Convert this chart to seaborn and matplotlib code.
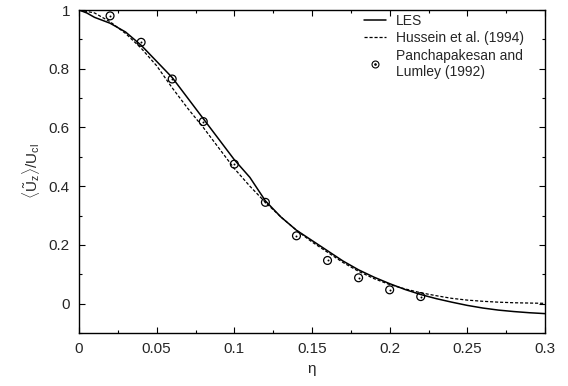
import matplotlib
matplotlib.use("Agg")
import matplotlib.pyplot as plt
from matplotlib.ticker import MultipleLocator
from matplotlib.lines import Line2D
import seaborn as sns
import pandas as pd

les_eta = [0, 0.005, 0.01, 0.015, 0.02, 0.025, 0.03, 0.04, 0.05, 0.06, 0.07, 0.08, 0.09,
           0.1, 0.11, 0.115, 0.12, 0.13, 0.14, 0.15, 0.16, 0.17, 0.18, 0.19, 0.2, 0.21,
           0.22, 0.23, 0.24, 0.25, 0.26, 0.27, 0.28, 0.29, 0.3]
les_u = [1.0, 0.99, 0.975, 0.965, 0.955, 0.94, 0.925, 0.88, 0.825, 0.77, 0.70, 0.63, 0.56,
         0.49, 0.43, 0.39, 0.35, 0.295, 0.25, 0.215, 0.18, 0.145, 0.115, 0.09, 0.068, 0.048,
         0.031, 0.017, 0.005, -0.006, -0.015, -0.022, -0.027, -0.031, -0.034]

hus_eta = [0, 0.01, 0.02, 0.03, 0.04, 0.05, 0.06, 0.07, 0.08, 0.09, 0.1, 0.11, 0.12, 0.13,
           0.14, 0.15, 0.16, 0.17, 0.18, 0.19, 0.2, 0.21, 0.22, 0.23, 0.24, 0.25, 0.26, 0.27,
           0.28, 0.29, 0.3]
hus_u = [1.0, 0.99, 0.96, 0.92, 0.87, 0.81, 0.735, 0.665, 0.60, 0.53, 0.46, 0.40, 0.345,
         0.295, 0.25, 0.21, 0.175, 0.14, 0.11, 0.085, 0.065, 0.05, 0.037, 0.027, 0.018,
         0.012, 0.008, 0.005, 0.003, 0.002, 0.001]

pl_eta = [0.02, 0.04, 0.06, 0.08, 0.1, 0.12, 0.14, 0.16, 0.18, 0.2, 0.22]
pl_u = [0.98, 0.89, 0.765, 0.62, 0.475, 0.345, 0.231, 0.147, 0.088, 0.047, 0.024]

xtick_labels = ['0', '0.05', '0.1', '0.15', '0.2', '0.25', '0.3']
ytick_labels = ['0', '0.2', '0.4', '0.6', '0.8', '1']

sns.set_theme(style="ticks")
plt.rcParams['font.family'] = ['Liberation Sans', 'DejaVu Sans']
plt.rcParams['mathtext.fontset'] = 'custom'
plt.rcParams['mathtext.rm'] = 'Liberation Sans'
plt.rcParams['mathtext.it'] = 'Liberation Sans'

fig = plt.figure(figsize=(5.68, 3.86), dpi=100)
ax = fig.add_axes([79/568, 1 - 333/386, (545-79)/568, (333-10)/386])

df_les = pd.DataFrame({'eta': les_eta, 'u': les_u})
df_hus = pd.DataFrame({'eta': hus_eta, 'u': hus_u})
df_pl = pd.DataFrame({'eta': pl_eta, 'u': pl_u})

dash = (0, (2.5, 1.5))
sns.lineplot(data=df_les, x='eta', y='u', ax=ax, color='black', lw=1.1, sort=False)
sns.lineplot(data=df_hus, x='eta', y='u', ax=ax, color='black', lw=0.9, sort=False,
             linestyle=dash)
sns.scatterplot(data=df_pl, x='eta', y='u', ax=ax, marker='o', s=32,
                facecolor='none', edgecolor='black', linewidth=0.9)
sns.scatterplot(data=df_pl, x='eta', y='u', ax=ax, marker='o', s=2,
                color='black', linewidth=0)

h_les = Line2D([], [], color='black', lw=1.1)
h_hus = Line2D([], [], color='black', lw=0.9, linestyle=dash)
h_c = Line2D([], [], color='black', marker='o', markersize=5, markerfacecolor='none',
             markeredgewidth=0.8, linestyle='none')
h_d = Line2D([], [], color='black', marker='o', markersize=0.9, linestyle='none')
ax.legend([h_les, h_hus, (h_c, h_d)],
          ['LES', 'Hussein et al. (1994)', 'Panchapakesan and\nLumley (1992)'],
          loc='upper right', frameon=False, fontsize=10, handlelength=1.6,
          borderaxespad=0.3, labelspacing=0.25, handletextpad=0.75,
          bbox_to_anchor=(1 - 11/466, 1 + 6/323))

ax.set_xlim(0, 0.3)
ax.set_ylim(-0.1, 1.0)
ax.xaxis.set_minor_locator(MultipleLocator(0.025))
ax.yaxis.set_minor_locator(MultipleLocator(0.1))
ax.set_xticks([0, 0.05, 0.1, 0.15, 0.2, 0.25, 0.3])
ax.set_xticklabels(xtick_labels)
ax.set_yticks([0, 0.2, 0.4, 0.6, 0.8, 1.0])
ax.set_yticklabels(ytick_labels)
ax.tick_params(which='both', direction='in', top=True, right=True, labelsize=11,
               color='black', width=0.8)
ax.tick_params(which='major', length=4.5, pad=6.5)
ax.tick_params(which='minor', length=2.5)
for s in ax.spines.values():
    s.set_linewidth(1.0)
    s.set_color('black')

ax.set_xlabel('η', fontsize=11, labelpad=4)
ax.set_ylabel(r'$\langle\tilde{\mathrm{U}}_{\mathrm{z}}\rangle/\mathrm{U}_{\mathrm{cl}}$',
              fontsize=11, labelpad=5)

fig.savefig('out.png', dpi=100)
